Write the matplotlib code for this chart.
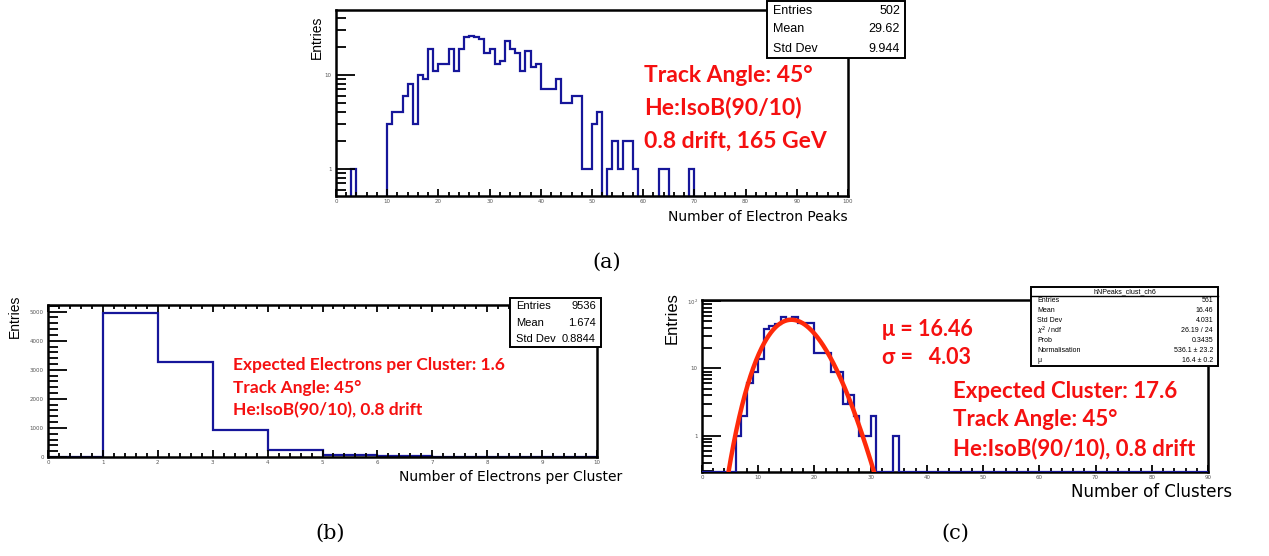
import numpy as np
import matplotlib
matplotlib.use('Agg')
from matplotlib import pyplot as plt
from matplotlib.ticker import MultipleLocator, FixedLocator, FixedFormatter, NullFormatter
from matplotlib.patches import Rectangle
from math import lgamma, log, exp

# ---- data ----
# (a) number of electron peaks, 1-wide bins from 0 to 100 (only non-empty bins)
peaks_bin = [3, 10, 11, 12, 13, 14, 15, 16, 17, 18, 19, 20, 21, 22, 23, 24, 25, 26, 27, 28,
             29, 30, 31, 32, 33, 34, 35, 36, 37, 38, 39, 40, 41, 42, 43, 44, 45, 46, 47, 48,
             49, 50, 51, 53, 54, 55, 56, 57, 58, 63, 64, 69]
peaks_n = [1, 3, 4, 4, 6, 8, 3, 10, 9, 19, 11, 13, 13, 19, 11, 19, 25, 26, 25, 24,
           17, 19, 13, 14, 23, 19, 17, 11, 18, 12, 13, 7, 7, 7, 9, 5, 5, 6, 6, 1,
           1, 3, 4, 1, 2, 1, 2, 2, 1, 1, 1, 1]
peaks_stats = [("Entries", "502"), ("Mean", "29.62"), ("Std Dev", "9.944")]
peaks_text = ["Track Angle: 45°", "He:IsoB(90/10)", "0.8 drift, 165 GeV"]

# (b) electrons per cluster, 1-wide bins from 0 to 10
epc_n = [0, 4971, 3272, 940, 230, 75, 30, 11, 5, 2]
epc_stats = [("Entries", "9536"), ("Mean", "1.674"), ("Std Dev", "0.8844")]
epc_text = ["Expected Electrons per Cluster: 1.6", "Track Angle: 45°", "He:IsoB(90/10), 0.8 drift"]

# (c) number of clusters, 1-wide bins from 0 to 90 (only non-empty bins)
clu_bin = [6, 7, 8, 9, 10, 11, 12, 13, 14, 15, 16, 17, 18, 19, 20, 21, 22, 23, 24, 25,
           26, 27, 28, 29, 30, 34]
clu_n = [1, 2, 6, 9, 14, 38, 43, 45, 59, 55, 59, 47, 47, 47, 17, 17, 17, 9, 9, 3,
         4, 2, 1, 1, 2, 1]
fit_norm = 536.1
fit_mu = 16.4
clu_title = "hNPeaks_clust_ch6"
clu_stats = [("Entries", "561"), ("Mean", "16.46"), ("Std Dev", "4.031"),
             (r"$\chi^2$ / ndf", "26.19 / 24"), ("Prob", "0.3435"),
             ("Normalisation", "536.1 ± 23.2"), ("μ", "16.4 ± 0.2")]
clu_text_fit = ["μ = 16.46", "σ =   4.03"]
clu_text = ["Expected Cluster: 17.6", "Track Angle: 45°", "He:IsoB(90/10), 0.8 drift"]

W, H = 1269, 556
fig = plt.figure(figsize=(W / 100, H / 100), dpi=100)

HIST = '#16169a'
RED = '#f51010'
GREY = '#555555'
RED_FONT = ['Lato', 'DejaVu Sans']


def fx(x):
    return x / W


def fy(y):
    return 1 - y / H


def rect(l, t, r, b):
    return [fx(l), fy(b), (r - l) / W, (b - t) / H]


def root_axes(box, xmax, xmajor, xminor):
    ax = fig.add_axes(rect(*box))
    for s in ax.spines.values():
        s.set_linewidth(1.8)
    ax.set_xlim(0, xmax)
    ax.xaxis.set_major_locator(MultipleLocator(xmajor))
    ax.xaxis.set_minor_locator(MultipleLocator(xminor))
    ax.tick_params(axis='both', which='both', direction='in', labelsize=4,
                   labelcolor=GREY, width=1.3)
    ax.tick_params(axis='x', which='major', length=5, pad=2)
    ax.tick_params(axis='x', which='minor', length=3)
    ax.tick_params(axis='y', which='major', length=14, pad=3)
    ax.tick_params(axis='y', which='minor', length=7)
    return ax


def stats_box(l, t, r, b, rows, size, title=None, title_h=0):
    fig.add_artist(Rectangle((fx(l), fy(b)), (r - l) / W, (b - t) / H,
                             transform=fig.transFigure, facecolor='white',
                             edgecolor='black', lw=1.4, zorder=5))
    top = t
    if title:
        fig.add_artist(plt.Line2D([fx(l), fx(r)], [fy(t + title_h)] * 2,
                                  transform=fig.transFigure, color='black', lw=1.0, zorder=6))
        fig.text(fx((l + r) / 2), fy(t + title_h / 2), title, ha='center', va='center',
                 fontsize=size, family='Liberation Sans', zorder=6)
        top = t + title_h
    step = (b - top) / len(rows)
    for i, (k, v) in enumerate(rows):
        yy = fy(top + step * (i + 0.5))
        fig.text(fx(l + 6), yy, k, ha='left', va='center', fontsize=size,
                 family='Liberation Sans', zorder=6)
        fig.text(fx(r - 5), yy, v, ha='right', va='center', fontsize=size,
                 family='Liberation Sans', zorder=6)


def red_lines(x, ys, lines, size):
    for y, s in zip(ys, lines):
        fig.text(fx(x), fy(y), s, color=RED, fontsize=size, fontweight='bold',
                 family=RED_FONT, ha='left', va='center')


def log_labels(ax, ticks, labels):
    ax.yaxis.set_major_locator(FixedLocator(ticks))
    ax.yaxis.set_major_formatter(FixedFormatter(labels))
    minors = [m * 10.0 ** d for d in range(-1, 3) for m in range(2, 10)]
    ax.yaxis.set_minor_locator(FixedLocator(minors))
    ax.yaxis.set_minor_formatter(NullFormatter())


# ---- (a) ----
ax1 = root_axes((336, 10, 848, 196), 100, 10, 2)
ax1.set_yscale('log')
ax1.set_ylim(0.515, 49)
log_labels(ax1, [1, 10], ['1', '10'])
counts_a = np.full(100, 1e-3)
counts_a[peaks_bin] = peaks_n
ax1.stairs(counts_a, np.arange(101), baseline=1e-3, color=HIST, lw=1.6)
fig.text(fx(317), fy(37), "Entries", rotation=90, ha='center', va='center', fontsize=10,
         family='Liberation Sans')
fig.text(fx(848), fy(217), "Number of Electron Peaks", ha='right', va='center', fontsize=10)
stats_box(767, 1, 905, 58, peaks_stats, 9)
red_lines(644, [75, 108, 141], peaks_text, 16.5)
fig.text(fx(607), fy(262), "(a)", ha='center', va='center', fontsize=15, family='DejaVu Serif')

# ---- (b) ----
ax2 = root_axes((48, 305, 597, 457), 10, 1, 0.2)
ax2.set_ylim(0, 5230)
ax2.yaxis.set_major_locator(MultipleLocator(1000))
ax2.yaxis.set_minor_locator(MultipleLocator(200))
ax2.tick_params(axis='x', which='both', top=True)
ax2.stairs(epc_n, np.arange(11), color=HIST, lw=1.6)
fig.text(fx(15), fy(316), "Entries", rotation=90, ha='center', va='center', fontsize=10,
         family='Liberation Sans')
fig.text(fx(622), fy(477), "Number of Electrons per Cluster", ha='right', va='center', fontsize=10)
stats_box(510, 298, 601, 347, epc_stats, 8)
red_lines(233, [365, 388, 410], epc_text, 12.5)
fig.text(fx(330), fy(533), "(b)", ha='center', va='center', fontsize=15, family='DejaVu Serif')

# ---- (c) ----
ax3 = root_axes((702, 300, 1208, 472), 90, 10, 2)
ax3.set_yscale('log')
ylo = 0.29
ax3.set_ylim(ylo, 104)
log_labels(ax3, [1, 10, 100], ['1', '10', r'$10^2$'])
counts_c = np.full(90, ylo)
counts_c[clu_bin] = clu_n
ax3.stairs(counts_c, np.arange(91), baseline=ylo, color=HIST, lw=1.6, zorder=4)
xf = np.linspace(0, 40, 400)
yf = [fit_norm * exp(v * log(fit_mu) - fit_mu - lgamma(v + 1)) for v in xf]
ax3.plot(xf, yf, color='#ff2a0a', lw=3.2, zorder=5)
fig.text(fx(672), fy(318), "Entries", rotation=90, ha='center', va='center', fontsize=12,
         family='Liberation Sans')
fig.text(fx(1232), fy(492), "Number of Clusters", ha='right', va='center', fontsize=12)
stats_box(1031, 287, 1218, 366, clu_stats, 5, title=clu_title, title_h=9)
red_lines(882, [330, 358], clu_text_fit, 15.5)
red_lines(953, [392, 420, 449], clu_text, 16)
fig.text(fx(955), fy(533), "(c)", ha='center', va='center', fontsize=15, family='DejaVu Serif')

fig.savefig('out.png', dpi=100)
